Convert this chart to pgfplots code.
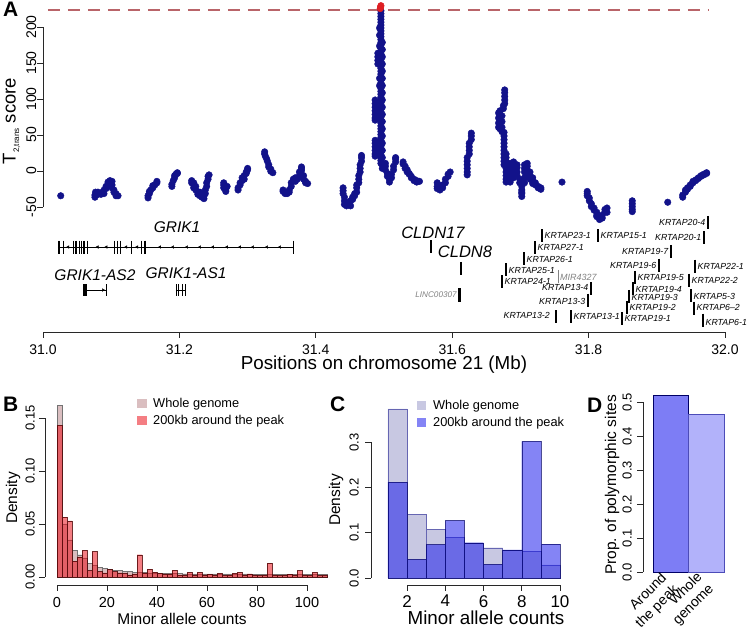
\documentclass[border=0pt]{standalone}
\usepackage{fontspec}
\setmainfont{Liberation Sans}
\usepackage{pgfplots}
\pgfplotsset{compat=1.18}
\usepackage{pgfplotstable}

\definecolor{ptnavy}{RGB}{18,18,138}
\definecolor{ptred}{RGB}{222,30,35}
\definecolor{dashred}{RGB}{185,100,105}
\definecolor{wgB}{RGB}{218,190,192}
\definecolor{redB}{RGB}{235,20,30}
\definecolor{wgC}{RGB}{200,200,226}
\definecolor{blueC}{RGB}{20,20,235}
\definecolor{barD1}{RGB}{125,125,245}
\definecolor{barD2}{RGB}{178,178,250}
\definecolor{axgray}{RGB}{40,40,40}
\definecolor{txtgray}{RGB}{130,130,130}

\newcommand{\tickfont}{\fontsize{14}{16}\selectfont}
\newcommand{\ytickfont}{\fontsize{13}{15}\selectfont}
\newcommand{\labfont}{\fontsize{15.5}{17}\selectfont}
\newcommand{\legfont}{\fontsize{12.8}{14}\selectfont}
\newcommand{\genefont}{\fontsize{8.8}{10}\selectfont\itshape}
\newcommand{\biggene}{\fontsize{15.5}{17}\selectfont\itshape}

\pgfplotsset{
  Rbase/.style={scale only axis, clip=false, tick align=outside, major tick length=6pt,
    tick style={axgray, line width=0.7pt}, axis line style={axgray, line width=0.7pt},
    ticklabel style={font=\tickfont, inner sep=0pt}},
  Ryaxis/.style={Rbase, axis x line=none, axis y line*=left, xmin=0, xmax=1, width=10pt,
    yticklabel style={rotate=90, anchor=south}},
}

\pgfplotstableread{
x y
31.026 -33
31.0762 -35
31.0762 -32
31.0770 -28
31.0806 -28
31.0806 -31
31.0850 -31
31.0850 -29
31.0894 -30
31.0894 -25
31.0924 -20
31.0924 -23
31.0953 -17
31.0953 -14
31.0982 -12
31.0982 -15
31.1012 -13
31.1012 -18
31.1012 -22
31.1040 -25
31.1040 -28
31.1070 -30
31.1070 -33
31.1100 -33
31.1540 -36
31.1540 -33
31.1560 -30
31.1560 -27
31.1580 -25
31.1610 -22
31.1610 -19
31.1640 -18
31.1670 -15
31.1670 -13
31.1890 -20
31.1890 -17
31.1910 -12
31.1930 -8
31.1930 -5
31.1950 -3
31.1970 -1
31.1970 -2
31.2180 -12
31.2180 -15
31.2210 -18
31.2210 -22
31.2210 -15
31.2240 -25
31.2240 -20
31.2270 -28
31.2270 -31
31.2300 -33
31.2300 -28
31.2330 -35
31.2330 -30
31.2360 -37
31.2360 -33
31.2380 -30
31.2380 -25
31.2400 -20
31.2400 -15
31.2420 -10
31.2420 -6
31.2435 -4
31.2650 -15
31.2650 -18
31.2650 -22
31.2680 -25
31.2680 -27
31.2700 -20
31.2860 -25
31.2860 -22
31.2890 -18
31.2890 -15
31.2920 -12
31.2920 -8
31.2950 -10
31.2950 -5
31.2980 -2
31.2980 0
31.3000 3
31.3000 5
31.3250 28
31.3250 25
31.3260 22
31.3280 18
31.3290 15
31.3310 10
31.3310 7
31.3340 4
31.3340 1
31.3370 -1
31.3520 -25
31.3520 -27
31.3550 -28
31.3550 -30
31.3580 -30
31.3610 -28
31.3610 -25
31.3640 -20
31.3640 -15
31.3670 -12
31.3670 -10
31.3700 -13
31.3700 -8
31.3730 -10
31.3760 -5
31.3760 0
31.3790 5
31.3790 7
31.3790 2
31.3820 -5
31.3820 -10
31.3850 -13
31.3850 -15
31.3880 -16
31.4400 -22
31.4400 -26
31.4400 -30
31.4420 -35
31.4420 -40
31.4420 -45
31.4450 -47
31.4450 -45
31.4480 -45
31.4480 -42
31.4510 -47
31.4510 -40
31.4540 -38
31.4540 -35
31.4570 -33
31.4570 -30
31.4600 -28
31.4600 -22
31.4600 -18
31.4630 -15
31.4630 -10
31.4630 -5
31.4650 0
31.4650 5
31.4650 10
31.4670 15
31.4670 20
31.4670 23
31.4870 100
31.4870 95
31.4870 90
31.4870 85
31.4870 80
31.4870 75
31.4870 72
31.4870 44
31.4870 40
31.4870 35
31.4870 30
31.4870 25
31.4870 22
31.4910 165
31.4910 160
31.4910 155
31.4910 150
31.4935 200
31.4935 190
31.4935 175
31.4935 165
31.4935 160
31.4935 155
31.4935 150
31.4935 130
31.4935 120
31.4955 224
31.4955 220
31.4955 216
31.4955 212
31.4955 208
31.4955 204
31.4955 200
31.4955 196
31.4955 192
31.4955 188
31.4955 184
31.4955 180
31.4955 176
31.4955 172
31.4955 168
31.4955 164
31.4955 160
31.4955 156
31.4955 152
31.4955 148
31.4955 144
31.4955 140
31.4955 136
31.4955 132
31.4955 128
31.4955 124
31.4955 120
31.4955 116
31.4955 112
31.4955 108
31.4955 104
31.4955 100
31.4955 96
31.4955 92
31.4955 88
31.4955 84
31.4955 80
31.4955 76
31.4955 72
31.4955 68
31.4955 64
31.4955 60
31.4955 56
31.4955 52
31.4955 48
31.4955 44
31.4955 40
31.4955 36
31.4955 32
31.4955 28
31.4955 24
31.4955 20
31.4955 16
31.4955 12
31.4975 180
31.4975 170
31.4975 160
31.4975 150
31.4975 140
31.4975 130
31.4975 120
31.4975 110
31.4975 100
31.4975 90
31.4975 80
31.4975 70
31.4975 60
31.4975 50
31.4975 40
31.4975 30
31.4975 20
31.4975 10
31.4975 5
31.5020 12
31.5020 8
31.5020 3
31.5050 -2
31.5050 -6
31.5080 -10
31.5080 -14
31.5110 -8
31.5110 -3
31.5140 3
31.5140 8
31.5170 14
31.5170 18
31.5170 20
31.5280 14
31.5280 11
31.5310 8
31.5310 5
31.5340 3
31.5340 0
31.5370 -3
31.5370 -2
31.5400 -6
31.5400 -8
31.5440 -10
31.5440 -12
31.5480 -12
31.5480 -14
31.5520 -13
31.5780 -20
31.5780 -15
31.5780 -23
31.5820 -25
31.5820 -22
31.5860 -22
31.5860 -18
31.5900 -15
31.5900 -10
31.5940 -6
31.5940 -3
31.5970 0
31.6220 -4
31.6220 0
31.6220 5
31.6220 10
31.6220 15
31.6220 20
31.6250 25
31.6250 30
31.6250 35
31.6250 40
31.6280 45
31.6280 50
31.6280 54
31.6770 114
31.6770 110
31.6770 105
31.6770 100
31.6770 95
31.6750 92
31.6750 88
31.6700 85
31.6700 80
31.6700 75
31.6700 70
31.6700 65
31.6700 60
31.6680 82
31.6680 75
31.6680 68
31.6680 62
31.6730 78
31.6730 70
31.6730 62
31.6730 56
31.6760 55
31.6760 50
31.6760 45
31.6760 40
31.6760 35
31.6760 30
31.6760 25
31.6760 20
31.6760 15
31.6760 10
31.6790 25
31.6790 20
31.6790 15
31.6790 10
31.6790 5
31.6790 0
31.6790 -5
31.6790 -10
31.6790 -14
31.6850 12
31.6850 8
31.6850 4
31.6850 0
31.6850 -5
31.6850 -10
31.6850 -14
31.6900 14
31.6900 10
31.6900 5
31.6900 0
31.6900 -8
31.6950 10
31.6950 6
31.6950 0
31.6950 -5
31.6990 -10
31.6990 -15
31.7020 -20
31.7020 -25
31.7020 -30
31.7020 -34
31.7020 -28
31.7060 -15
31.7060 -8
31.7060 0
31.7060 5
31.7060 10
31.7100 12
31.7100 8
31.7100 3
31.7100 -3
31.7140 0
31.7140 -5
31.7140 -10
31.7180 -8
31.7180 -12
31.7180 -16
31.7220 -15
31.7220 -18
31.7260 -20
31.7260 -22
31.7300 -22
31.7300 -24
31.7610 -14
31.7980 -27
31.7980 -30
31.7980 -33
31.8010 -36
31.8010 -40
31.8040 -44
31.8040 -48
31.8080 -50
31.8080 -53
31.8120 -56
31.8120 -60
31.8120 -62
31.8160 -64
31.8160 -66
31.8200 -64
31.8200 -60
31.8240 -55
31.8240 -52
31.8270 -50
31.8270 -56
31.8640 -40
31.8640 -44
31.8640 -48
31.8640 -52
31.8640 -55
31.9160 -42
31.9380 -35
31.9380 -32
31.9420 -28
31.9420 -25
31.9450 -22
31.9450 -24
31.9490 -20
31.9490 -18
31.9530 -15
31.9530 -13
31.9570 -11
31.9570 -12
31.9610 -9
31.9610 -8
31.9650 -6
31.9650 -5
31.9690 -4
31.9690 -3
31.9730 -2
31.9730 -1
}\scoreA

\pgfplotstableread{
x w r
1 0.162 0.143
3 0.050 0.0565
5 0.035 0.053
7 0.025 0.015
9 0.021 0.019
11 0.018 0.025
13 0.013 0.006
15 0.011 0.024
17 0.009 0.005
19 0.008 0.004
21 0.0075 0.007
23 0.0065 0.005
25 0.006 0.004
27 0.0055 0.0035
29 0.005 0.002
31 0.0045 0.003
33 0.0045 0.021
35 0.0042 0.004
37 0.004 0.0075
39 0.0038 0.0047
41 0.0036 0.0035
43 0.0035 0.003
45 0.0034 0.003
47 0.0033 0.0063
49 0.0032 0.002
51 0.0031 0.002
53 0.003 0.0044
55 0.003 0.002
57 0.003 0.0044
59 0.003 0.002
61 0.003 0.0025
63 0.003 0.002
65 0.003 0.0035
67 0.003 0.0015
69 0.003 0.002
71 0.003 0.0035
73 0.003 0.0044
75 0.003 0.002
77 0.003 0.003
79 0.0028 0.002
81 0.0028 0.0015
83 0.0028 0.002
85 0.0028 0.013
87 0.0028 0.002
89 0.0028 0.0015
91 0.0028 0.002
93 0.0028 0.0025
95 0.0028 0.002
97 0.0028 0.006
99 0.0028 0.002
101 0.0028 0.0015
103 0.0028 0.0044
105 0.0028 0.0015
107 0.0028 0.002
}\histB

\pgfplotstableread{
x w b
1.5 0.374 0.212
2.5 0.141 0.041
3.5 0.107 0.074
4.5 0.090 0.127
5.5 0.078 0.078
6.5 0.067 0.030
7.5 0.062 0.062
8.5 0.059 0.302
9.5 0.029 0.075
}\histC

\begin{document}
\begin{tikzpicture}
\useasboundingbox (0pt,0pt) rectangle (750pt,631pt);

%% ================= Panel A =================
\begin{axis}[Rbase, at={(43pt,299pt)}, anchor=south west, width=682pt, height=332pt,
  xmin=31, xmax=32, ymin=-222.2, ymax=238.9,
  axis x line*=bottom, axis y line=none,
  xtick={31,31.2,31.4,31.6,31.8,32}, xticklabels={31.0,31.2,31.4,31.6,31.8,32.0},
  xticklabel style={anchor=north, inner ysep=6.5pt}]
  \addplot[dashred, line width=1.3pt, dash pattern=on 12pt off 8pt] coordinates {(31.0073,225) (31.976,225)};
  \addplot[only marks, mark=*, mark size=3.3pt, color=ptnavy] table[x=x,y=y] {\scoreA};
  \addplot[only marks, mark=*, mark size=3.3pt, color=ptred] coordinates {(31.4945,227) (31.4950,229) (31.4955,231)};
  % GRIK1
  \addplot[black, line width=0.9pt] coordinates {(31.02199,-104.17) (31.36657,-104.17)};
  \addplot[only marks, mark=|, mark size=6.5pt, mark options={line width=1.1pt}, black] coordinates {
    (31.0239,-104.17) (31.0298,-104.17)
    (31.0444,-104.17) (31.0484,-104.17) (31.0532,-104.17) (31.0567,-104.17) (31.0601,-104.17) (31.0650,-104.17)
    (31.1045,-104.17) (31.1089,-104.17) (31.1139,-104.17)
    (31.1301,-104.17) (31.1447,-104.17) (31.1496,-104.17)};
  \addplot[only marks, mark=|, mark size=6.5pt, mark options={line width=0.8pt}, black] coordinates {(31.02199,-104.17) (31.36657,-104.17)};
  \addplot[only marks, mark=triangle*, mark size=1.5pt, mark options={rotate=90}, black] coordinates {
    (31.0370,-104.17) (31.0800,-104.17) (31.0930,-104.17) (31.1220,-104.17) (31.1380,-104.17)
    (31.1716,-104.17) (31.1906,-104.17) (31.2111,-104.17) (31.2302,-104.17) (31.2493,-104.17)
    (31.2698,-104.17) (31.2889,-104.17) (31.3079,-104.17) (31.3284,-104.17) (31.3475,-104.17)};
  \node[font=\biggene, anchor=base, inner sep=0pt] at (axis cs:31.1965,-84.7) {GRIK1};
  % GRIK1-AS2
  \addplot[black, line width=0.9pt] coordinates {(31.0601,-163.9) (31.0924,-163.9)};
  \addplot[only marks, mark=|, mark size=6pt, mark options={line width=1.1pt}, black] coordinates {(31.0601,-163.9) (31.0631,-163.9)};
  \addplot[only marks, mark=|, mark size=6pt, mark options={line width=0.8pt}, black] coordinates {(31.0924,-163.9)};
  \addplot[only marks, mark=triangle*, mark size=1.5pt, mark options={rotate=-90}, black] coordinates {(31.0880,-163.9)};
  \node[font=\biggene, anchor=base, inner sep=0pt] at (axis cs:31.0762,-150) {GRIK1-AS2};
  % GRIK1-AS1
  \addplot[black, line width=0.9pt] coordinates {(31.19501,-163.9) (31.2087,-163.9)};
  \addplot[only marks, mark=|, mark size=6pt, mark options={line width=1.0pt}, black] coordinates {(31.1960,-163.9) (31.1994,-163.9) (31.2048,-163.9) (31.2087,-163.9)};
  \node[font=\biggene, anchor=base, inner sep=0pt] at (axis cs:31.2097,-148.6) {GRIK1-AS1};
  % CLDN17, CLDN8, LINC00307
  \addplot[only marks, mark=|, mark size=6.5pt, mark options={line width=1.4pt}, black] coordinates {(31.5689,-103.5) (31.6129,-134)};
  \addplot[only marks, mark=|, mark size=7pt, mark options={line width=1.4pt}, black] coordinates {(31.6100,-171.5) (31.6115,-171.5)};
  \node[font=\fontsize{16.5}{18}\selectfont\itshape, anchor=base, inner sep=0pt] at (axis cs:31.5718,-91.7) {CLDN17};
  \node[font=\fontsize{16.5}{18}\selectfont\itshape, anchor=base, inner sep=0pt] at (axis cs:31.6188,-119.4) {CLDN8};
  \node[font=\fontsize{8.2}{9}\selectfont\itshape, text=txtgray, anchor=east, inner sep=0pt] at (axis cs:31.6070,-170.8) {LINC00307};
  % KRTAP cluster
  \addplot[only marks, mark=|, mark size=6.5pt, mark options={line width=1.2pt}, black] coordinates {
    (31.7317,-88.2) (31.8138,-88.2) (31.9751,-70.1) (31.9692,-91.0) (31.7214,-104.9)
    (31.9208,-110.4) (31.7053,-120.8) (31.9032,-129.2) (31.9560,-130.6) (31.6789,-136.1)
    (31.6730,-152.1) (31.8680,-146.5) (31.9472,-150) (31.8035,-161.8) (31.8651,-161.8)
    (31.7991,-177.8) (31.8592,-172.9) (31.9501,-172.2) (31.8563,-188.2) (31.9545,-188.9)
    (31.7522,-200.7) (31.7742,-200.7) (31.8490,-203.5) (31.9677,-205.6)};
  \addplot[only marks, mark=|, mark size=6.5pt, mark options={line width=0.8pt}, txtgray] coordinates {(31.7551,-145.1)};
  \begin{scope}[every node/.style={font=\genefont, inner sep=0pt}]
  \node[anchor=west, xshift=2.5pt] at (axis cs:31.7317,-88.2) {KRTAP23-1};
  \node[anchor=west, xshift=2.5pt] at (axis cs:31.8138,-88.2) {KRTAP15-1};
  \node[anchor=east, xshift=-2.5pt] at (axis cs:31.9751,-70.1) {KRTAP20-4};
  \node[anchor=east, xshift=-2.5pt] at (axis cs:31.9692,-91.0) {KRTAP20-1};
  \node[anchor=west, xshift=2.5pt] at (axis cs:31.7214,-104.9) {KRTAP27-1};
  \node[anchor=east, xshift=-2.5pt] at (axis cs:31.9208,-110.4) {KRTAP19-7};
  \node[anchor=west, xshift=2.5pt] at (axis cs:31.7053,-120.8) {KRTAP26-1};
  \node[anchor=east, xshift=-2.5pt] at (axis cs:31.9032,-129.2) {KRTAP19-6};
  \node[anchor=west, xshift=2.5pt] at (axis cs:31.9560,-130.6) {KRTAP22-1};
  \node[anchor=west, xshift=2.5pt] at (axis cs:31.6789,-136.1) {KRTAP25-1};
  \node[anchor=west, xshift=2.5pt] at (axis cs:31.6730,-152.1) {KRTAP24-1};
  \node[anchor=west, xshift=2pt, text=txtgray, font=\fontsize{9}{10}\selectfont\itshape] at (axis cs:31.7551,-146.5) {MIR4327};
  \node[anchor=west, xshift=2.5pt] at (axis cs:31.8680,-146.5) {KRTAP19-5};
  \node[anchor=west, xshift=2.5pt] at (axis cs:31.9472,-150) {KRTAP22-2};
  \node[anchor=east, xshift=-2.5pt] at (axis cs:31.8035,-159.7) {KRTAP13-4};
  \node[anchor=west, xshift=2.5pt] at (axis cs:31.8651,-162.5) {KRTAP19-4};
  \node[anchor=east, xshift=-2.5pt] at (axis cs:31.7991,-179.2) {KRTAP13-3};
  \node[anchor=west, xshift=2.5pt] at (axis cs:31.8592,-173.6) {KRTAP19-3};
  \node[anchor=west, xshift=2.5pt] at (axis cs:31.9501,-172.2) {KRTAP5-3};
  \node[anchor=west, xshift=2.5pt] at (axis cs:31.8563,-187.5) {KRTAP19-2};
  \node[anchor=west, xshift=2.5pt] at (axis cs:31.9545,-187.5) {KRTAP6--2};
  \node[anchor=east, xshift=-6pt] at (axis cs:31.7522,-198.6) {KRTAP13-2};
  \node[anchor=west, xshift=2.5pt] at (axis cs:31.7742,-200) {KRTAP13-1};
  \node[anchor=west, xshift=2.5pt] at (axis cs:31.8490,-202.8) {KRTAP19-1};
  \node[anchor=west, xshift=2.5pt] at (axis cs:31.9677,-208.3) {KRTAP6-1};
  \end{scope}
\end{axis}
% A y axis
\begin{axis}[Ryaxis, at={(43pt,424pt)}, anchor=south west, height=180pt,
  ymin=-50, ymax=200, ytick={-50,0,50,100,150,200}, yticklabels={-50,0,50,100,150,200},
  yticklabel style={inner ysep=0.5pt}]
\end{axis}
\node[rotate=90, anchor=base, inner sep=0pt, font=\fontsize{18.5}{20}\selectfont] at (15.5pt,510pt)
  {T\raisebox{-3.5pt}{\fontsize{8}{8}\selectfont 2,trans} score};
\node[anchor=base, inner sep=0pt, font=\fontsize{18.8}{20}\selectfont] at (384pt,261pt) {Positions on chromosome 21 (Mb)};

%% ================= Panel B =================
\begin{axis}[Rbase, at={(57pt,46pt)}, anchor=south west, width=250pt, height=167pt,
  xmin=0, xmax=100, ymin=-0.007547, ymax=0.15,
  axis x line*=bottom, axis y line=none,
  xtick={0,20,40,60,80,100}, xticklabels={0,20,40,60,80,100},
  xticklabel style={anchor=north, inner ysep=6.5pt, font=\fontsize{14.5}{16}\selectfont},
  legend style={at={(axis description cs:0.32,1.118)}, anchor=north west, draw=none, fill=none,
    inner sep=0pt, outer sep=0pt, row sep=6.3pt, font=\legfont, nodes={inner sep=0pt, anchor=west}},
  legend cell align=left,
  legend image code/.code={\fill[#1,draw=none] (0pt,-4.6pt) rectangle (9.5pt,4.6pt); \path (16pt,0pt);}]
  \addplot[ybar, bar width=2, bar shift=0pt, fill=wgB, draw=black!55, line width=0.4pt] table[x=x,y=w] {\histB};
  \addplot[ybar, bar width=2, bar shift=0pt, fill=redB, fill opacity=0.55, draw=black!70!red, draw opacity=0.8, line width=0.4pt] table[x=x,y=r] {\histB};
  \legend{Whole genome, 200kb around the peak}
\end{axis}
\begin{axis}[Ryaxis, at={(45pt,54pt)}, anchor=south west, height=159pt,
  ymin=0, ymax=0.15, ytick={0,0.05,0.1,0.15}, yticklabels={0.00,0.05,0.10,0.15},
  yticklabel style={inner ysep=4pt, font=\ytickfont}]
\end{axis}
\node[rotate=90, anchor=base, inner sep=0pt, font=\labfont] at (17pt,133pt) {Density};
\node[anchor=base, inner sep=0pt, font=\labfont] at (182pt,6pt) {Minor allele counts};

%% ================= Panel C =================
\begin{axis}[Rbase, at={(407pt,46pt)}, anchor=south west, width=153pt, height=142.6pt,
  xmin=2, xmax=10, ymin=-0.0155, ymax=0.3,
  axis x line*=bottom, axis y line=none,
  xtick={2,4,6,8,10}, xticklabels={2,4,6,8,10},
  xticklabel style={anchor=north, inner ysep=4pt, font=\fontsize{17}{19}\selectfont},
  legend style={at={(axis description cs:0.065,1.297)}, anchor=north west, draw=none, fill=none,
    inner sep=0pt, outer sep=0pt, row sep=6.3pt, font=\legfont, nodes={inner sep=0pt, anchor=west}},
  legend cell align=left,
  legend image code/.code={\fill[#1,draw=none] (0pt,-4.6pt) rectangle (9.5pt,4.6pt); \path (16pt,0pt);}]
  \addplot[ybar, bar width=1, bar shift=0pt, fill=wgC, draw=black!50!blue!60, line width=0.4pt] table[x=x,y=w] {\histC};
  \addplot[ybar, bar width=1, bar shift=0pt, fill=blueC, fill opacity=0.52, draw=black!60!blue, draw opacity=0.7, line width=0.4pt] table[x=x,y=b] {\histC};
  \legend{Whole genome, 200kb around the peak}
\end{axis}
\begin{axis}[Ryaxis, at={(371pt,53pt)}, anchor=south west, height=135.6pt,
  ymin=0, ymax=0.3, ytick={0,0.1,0.2,0.3}, yticklabels={0.0,0.1,0.2,0.3},
  yticklabel style={inner ysep=6pt, font=\ytickfont}]
\end{axis}
\node[rotate=90, anchor=base, inner sep=0pt, font=\labfont] at (340pt,131pt) {Density};
\node[anchor=base, inner sep=0pt, font=\fontsize{18.8}{20}\selectfont] at (486pt,6pt) {Minor allele counts};

%% ================= Panel D =================
\begin{axis}[Rbase, at={(643pt,59pt)}, anchor=south west, width=80.75pt, height=170pt,
  xmin=0.2254, xmax=2.5, ymin=0, ymax=0.5,
  axis y line*=left, axis x line=none,
  ytick={0,0.1,0.2,0.3,0.4,0.5}, yticklabels={0.0,0.1,0.2,0.3,0.4,0.5},
  yticklabel style={rotate=90, anchor=south, inner ysep=5pt, font=\ytickfont}]
  \addplot[ybar, bar width=1, bar shift=0pt, fill=barD1, draw=black!60!blue, line width=0.5pt] coordinates {(1,0.52)};
  \addplot[ybar, bar width=1, bar shift=0pt, fill=barD2, draw=black!40!blue!70, line width=0.5pt] coordinates {(2,0.465)};
  \node[rotate=45, anchor=east, align=right, inner sep=0pt, font=\fontsize{14}{16.5}\selectfont] at ([yshift=-10pt]axis cs:1,0) {Around\\the peak};
  \node[rotate=45, anchor=east, align=right, inner sep=0pt, font=\fontsize{14}{16.5}\selectfont] at ([yshift=-9pt]axis cs:2,0) {Whole\\genome};
\end{axis}
\node[rotate=90, anchor=base, inner sep=0pt, font=\labfont] at (616pt,146pt) {Prop. of polymorphic sites};

%% panel letters
\begin{scope}[every node/.style={anchor=base west, inner sep=0pt, font=\bfseries\fontsize{21}{21}\selectfont}]
\node at (3pt,614pt) {A};
\node at (3pt,219pt) {B};
\node at (330pt,219pt) {C};
\node at (587pt,218pt) {D};
\end{scope}
\end{tikzpicture}
\end{document}
